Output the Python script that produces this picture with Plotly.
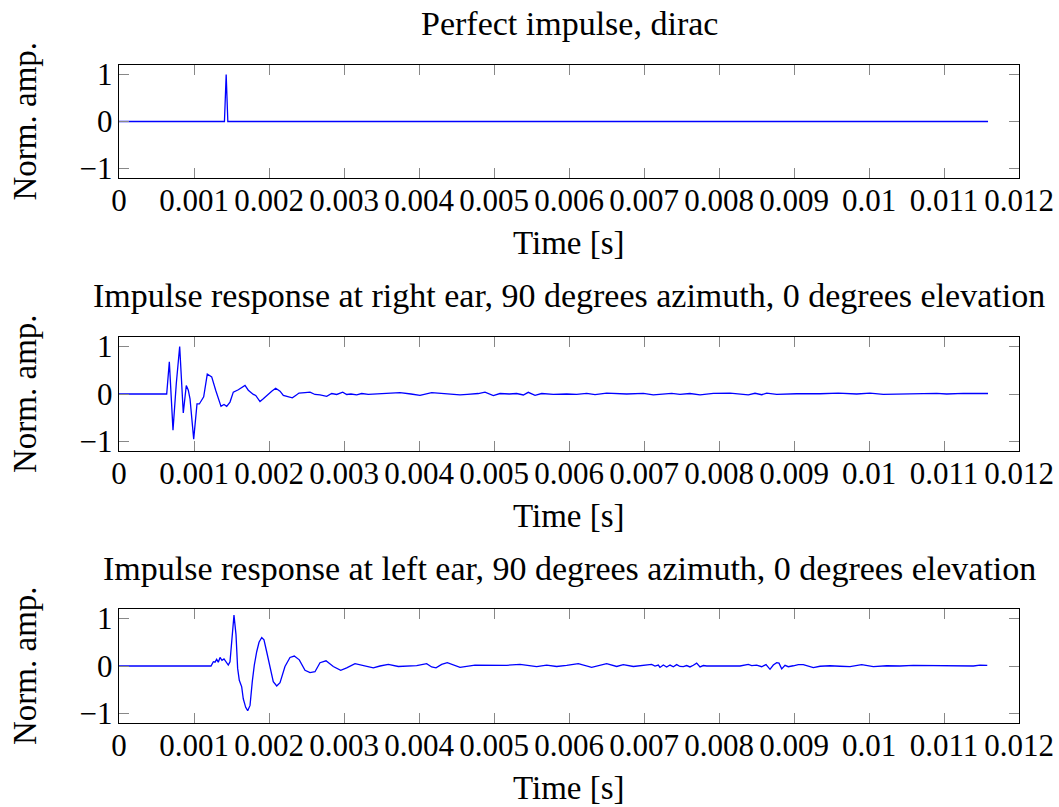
import plotly.graph_objects as go

# ---- data (times in seconds, normalised amplitude) ----
dirac_t = [0.0, 0.001406, 0.001429, 0.001451, 0.011587]
dirac_v = [0.0, 0.0, 1.0, 0.0, 0.0]

right_t_ms = [0.0, 0.636, 0.671, 0.720, 0.764, 0.809, 0.857, 0.897, 0.924, 0.947,
              0.996, 1.040, 1.071, 1.103, 1.129, 1.177, 1.236, 1.289, 1.324, 1.360,
              1.400, 1.436, 1.480, 1.524, 1.591, 1.636, 1.680, 1.724, 1.791, 1.823,
              1.880, 1.924, 1.991, 2.036, 2.089, 2.147, 2.191, 2.257, 2.311, 2.356,
              2.400, 2.480, 2.547, 2.613, 2.680, 2.769, 2.836, 2.903, 2.983, 3.036,
              3.093, 3.169, 3.236, 3.324, 3.413, 3.547, 3.747, 3.893, 4.013, 4.169,
              4.324, 4.547, 4.644, 4.791, 4.880, 4.991, 5.080, 5.204, 5.302, 5.391,
              5.457, 5.547, 5.636, 5.791, 5.969, 6.102, 6.236, 6.347, 6.502, 6.769,
              6.991, 7.124, 7.369, 7.480, 7.613, 7.747, 7.924, 8.147, 8.391, 8.480,
              8.569, 8.636, 8.769, 9.036, 9.347, 9.591, 9.836, 10.013, 10.191, 10.591,
              10.902, 11.036, 11.258, 11.587]
right_v = [0.0, 0.0, 0.68, -0.76, 0.22, 1.0, -0.40, 0.18, 0.08, -0.10,
           -0.95, -0.21, -0.21, -0.13, -0.06, 0.42, 0.36, 0.08, -0.10, -0.26,
           -0.22, -0.26, -0.17, 0.04, 0.09, 0.13, 0.18, 0.08, -0.01, -0.03,
           -0.16, -0.10, 0.0, 0.06, 0.12, 0.06, -0.03, -0.06, -0.08, -0.03,
           0.02, 0.03, 0.04, -0.01, -0.02, -0.05, 0.01, -0.01, 0.04, -0.01,
           0.0, -0.02, 0.01, -0.01, 0.0, 0.01, 0.03, 0.0, -0.03, 0.03,
           0.01, -0.02, -0.01, 0.01, 0.04, -0.035, 0.01, 0.0, 0.01, -0.02,
           0.035, -0.03, 0.01, -0.01, 0.0, -0.01, 0.015, -0.015, 0.02, 0.0,
           0.015, -0.02, 0.015, -0.01, 0.01, -0.02, 0.015, 0.02, -0.02, 0.015,
           -0.015, 0.02, -0.01, 0.005, 0.005, 0.02, 0.0, 0.02, -0.01, 0.005,
           0.015, 0.0, 0.015, 0.01]

left_t_ms = [0.0, 1.227, 1.258, 1.280, 1.302, 1.324, 1.347, 1.373, 1.400, 1.427,
             1.457, 1.480, 1.511, 1.533, 1.560, 1.582, 1.604, 1.636, 1.657, 1.689,
             1.716, 1.747, 1.777, 1.804, 1.836, 1.867, 1.903, 1.933, 1.969, 2.013,
             2.057, 2.103, 2.147, 2.213, 2.280, 2.337, 2.404, 2.480, 2.547, 2.613,
             2.680, 2.760, 2.857, 2.956, 3.036, 3.147, 3.257, 3.391, 3.480, 3.591,
             3.724, 3.836, 3.969, 4.102, 4.169, 4.227, 4.302, 4.377, 4.547, 4.747,
             4.991, 5.169, 5.347, 5.569, 5.702, 5.836, 5.969, 6.124, 6.302, 6.502,
             6.636, 6.724, 6.858, 6.991, 7.102, 7.147, 7.191, 7.213, 7.258, 7.302,
             7.347, 7.391, 7.436, 7.480, 7.524, 7.569, 7.613, 7.658, 7.702, 7.747,
             7.791, 7.836, 7.924, 8.058, 8.191, 8.280, 8.391, 8.436, 8.502, 8.569,
             8.627, 8.680, 8.724, 8.769, 8.800, 8.836, 8.880, 8.924, 8.991, 9.058,
             9.124, 9.191, 9.258, 9.347, 9.480, 9.613, 9.747, 9.902, 10.058, 10.236,
             10.413, 10.591, 10.791, 11.036, 11.213, 11.391, 11.480, 11.577]
left_v = [0.0, 0.0, 0.09, 0.08, 0.14, 0.08, 0.18, 0.12, 0.15, 0.08,
          0.02, 0.09, 0.66, 1.07, 0.66, -0.05, -0.30, -0.44, -0.69, -0.87,
          -0.94, -0.83, -0.33, 0.02, 0.30, 0.50, 0.60, 0.55, 0.30, -0.05,
          -0.33, -0.42, -0.35, -0.01, 0.18, 0.21, 0.13, -0.09, -0.14, -0.12,
          0.07, 0.11, -0.01, -0.09, -0.04, 0.05, 0.01, -0.04, 0.0, 0.035,
          -0.01, 0.0, 0.01, 0.05, -0.02, -0.04, 0.035, 0.07, -0.03, 0.02,
          0.015, 0.015, 0.035, -0.015, 0.02, -0.01, 0.015, 0.05, -0.03, 0.05,
          -0.01, 0.03, -0.01, 0.015, 0.035, 0.0, 0.02, -0.03, 0.02, -0.02,
          0.02, -0.015, 0.03, -0.01, -0.015, 0.01, -0.02, 0.015, 0.06, -0.02,
          0.01, 0.0, 0.0, 0.01, 0.015, 0.0, 0.035, 0.01, 0.02, -0.015,
          0.03, -0.07, 0.02, 0.07, 0.06, -0.06, 0.015, -0.015, 0.005, 0.03,
          0.03, 0.0, -0.035, -0.005, 0.005, -0.005, -0.015, 0.03, -0.015, 0.005,
          0.0, 0.015, 0.015, 0.0, 0.015, 0.0, 0.02, 0.015]

titles = ["Perfect impulse, dirac",
          "Impulse response at right ear, 90 degrees azimuth, 0 degrees elevation",
          "Impulse response at left ear, 90 degrees azimuth, 0 degrees elevation"]
x_tickvals = [0, 0.001, 0.002, 0.003, 0.004, 0.005, 0.006, 0.007, 0.008, 0.009, 0.01, 0.011, 0.012]
x_ticktext = ["0", "0.001", "0.002", "0.003", "0.004", "0.005", "0.006", "0.007",
              "0.008", "0.009", "0.01", "0.011", "0.012"]
y_tickvals = [-1, 0, 1]
y_ticktext = ["\u22121", "0", "1"]
x_label = "Time [s]"
y_label = "Norm. amp."

# ---- figure ----
W, H = 1059, 807
FONT = "Liberation Serif"
FS_TITLE, FS_LABEL, FS_TICK = 34, 33, 31
series = [
    (dirac_t, dirac_v),
    ([t / 1000 for t in right_t_ms], right_v),
    ([t / 1000 for t in left_t_ms], left_v),
]
# plot-area boxes in pixels (top, bottom)
boxes = [(65, 178), (337, 451), (609, 723)]
x0px, x1px = 119, 1019

fig = go.Figure()
layout = dict(width=W, height=H, margin=dict(l=0, r=0, t=0, b=0, autoexpand=False),
              paper_bgcolor="white", plot_bgcolor="white", showlegend=False,
              font=dict(family=FONT, size=FS_LABEL, color="black"))
annotations = []
for i, ((tt, vv), (top, bot)) in enumerate(zip(series, boxes)):
    n = "" if i == 0 else str(i + 1)
    fig.add_trace(go.Scatter(x=tt, y=vv, mode="lines",
                             line=dict(color="#0000ff", width=1.3),
                             xaxis="x" + n, yaxis="y" + n, hoverinfo="skip"))
    layout["xaxis" + n] = dict(
        domain=[x0px / W, x1px / W], anchor="y" + n, range=[0, 0.012],
        tickvals=x_tickvals, ticktext=x_ticktext, ticks="inside", ticklen=10,
        tickcolor="#888888", tickwidth=1.2, showline=True, linecolor="black",
        linewidth=1.4, mirror="allticks", showgrid=False, zeroline=False,
        tickangle=0, automargin=False,
        tickfont=dict(family=FONT, size=FS_TICK), ticklabelstandoff=-5)
    layout["yaxis" + n] = dict(
        domain=[1 - bot / H, 1 - top / H], anchor="x" + n, range=[-1.2, 1.2],
        tickvals=y_tickvals, ticktext=y_ticktext, ticks="inside", ticklen=10,
        tickcolor="#888888", tickwidth=1.2, showline=True, linecolor="black",
        linewidth=1.4, mirror="allticks", showgrid=False, zeroline=False,
        automargin=False,
        tickfont=dict(family=FONT, size=FS_TICK), ticklabelstandoff=-1)
    annotations.append(dict(text=titles[i], x=(x0px + x1px) / 2 / W, y=1 - (top - 41) / H,
                            xref="paper", yref="paper", showarrow=False,
                            xanchor="center", yanchor="middle",
                            font=dict(family=FONT, size=FS_TITLE)))
    annotations.append(dict(text=x_label, x=(x0px + x1px) / 2 / W, y=1 - (bot + 65) / H,
                            xref="paper", yref="paper", showarrow=False,
                            xanchor="center", yanchor="middle",
                            font=dict(family=FONT, size=FS_LABEL)))
    annotations.append(dict(text=y_label, x=25 / W, y=1 - (top + bot) / 2 / H,
                            xref="paper", yref="paper", showarrow=False, textangle=-90,
                            xanchor="center", yanchor="middle",
                            font=dict(family=FONT, size=FS_LABEL)))
layout["annotations"] = annotations
fig.update_layout(**layout)
fig.write_html("out.html", config={"displayModeBar": False},
               post_script="document.body.style.margin='0px';")
